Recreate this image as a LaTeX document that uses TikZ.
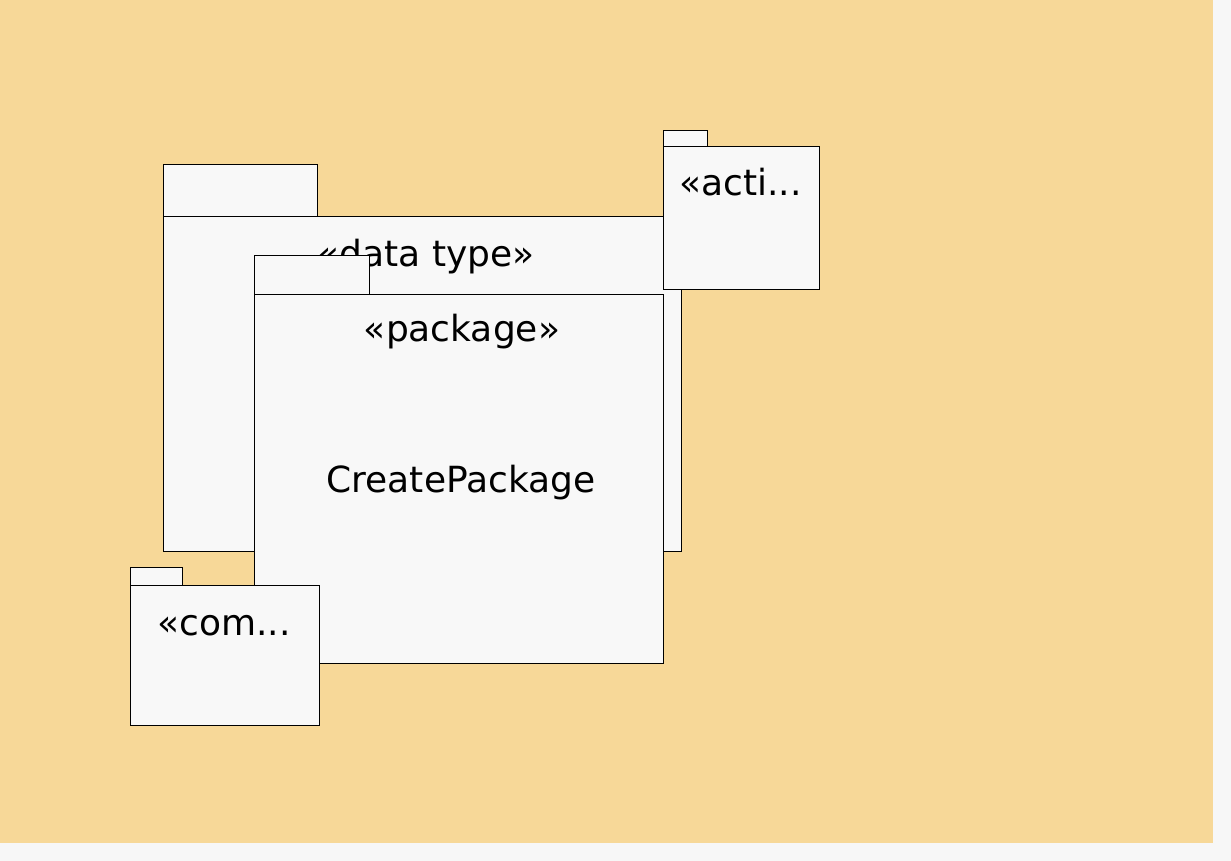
\documentclass[tikz,border=0pt]{standalone}
\usepackage{fontspec}
\setmainfont{DejaVu Sans}
\definecolor{bgorange}{RGB}{247,216,152}
\definecolor{boxfill}{RGB}{248,248,248}
\definecolor{marginc}{RGB}{247,247,247}
\tikzset{
  pkg/.style={draw=black, fill=boxfill, line width=0.8pt},
  lbl/.style={font=\fontsize{36}{42}\selectfont, inner sep=0pt, anchor=base},
}
\begin{document}
\begin{tikzpicture}[x=1pt,y=-1pt]
\useasboundingbox (0,0) rectangle (1231,861);
\fill[marginc] (0,0) rectangle (1231,861);
\fill[bgorange] (0,0) rectangle (1213,843);
% data type
\draw[pkg] (163,164) rectangle (317,216);
\draw[pkg] (163,216) rectangle (681,551);
\node[lbl] (dt) at (426,266) {«data type»};
% package
\draw[pkg] (254,255) rectangle (369,294);
\draw[pkg] (254,294) rectangle (663,663);
\node[lbl] (pk) at (462,341) {«package»};
\node[lbl] (cp) at (461,492) {CreatePackage};
% activity
\draw[pkg] (663,130) rectangle (707,146);
\draw[pkg] (663,146) rectangle (819,289);
\node[lbl, anchor=base west] (ac) at (679,196) {«acti...};
% component
\draw[pkg] (130,567) rectangle (182,585);
\draw[pkg] (130,585) rectangle (319,725);
\node[lbl, anchor=base west] (co) at (157,635) {«com...};
\end{tikzpicture}
\end{document}
